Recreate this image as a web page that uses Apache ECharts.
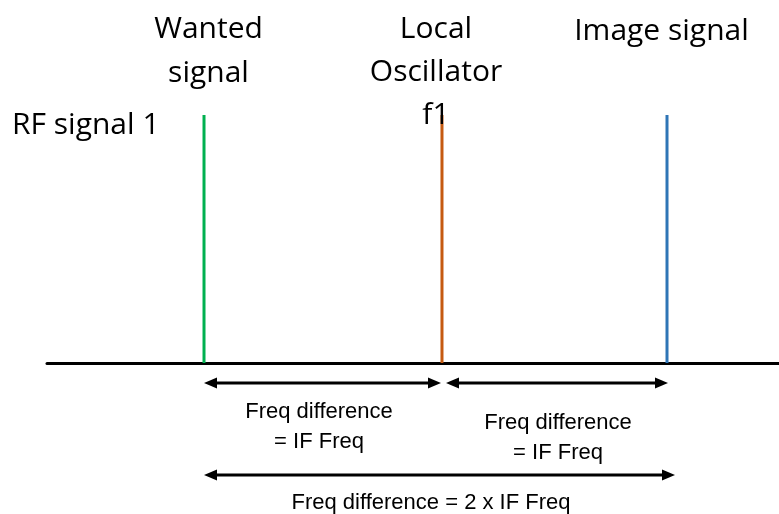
<!DOCTYPE html>
<html>
<head>
<meta charset="utf-8">
<script src="https://cdn.jsdelivr.net/npm/echarts@6/dist/echarts.min.js"></script>
<style>
  html, body { margin: 0; padding: 0; background: #ffffff; }
  #chart { width: 779px; height: 514px; }
</style>
</head>
<body>
<div id="chart"></div>
<script>
// ---- data ----
const signalNames = ['Wanted signal', 'Local Oscillator f1', 'Image signal'];
const signalLabels = ['Wanted\nsignal', 'Local\nOscillator\nf1', 'Image signal'];
const signalFreq = [21.45, 53.96, 84.70];   // position on frequency axis (arbitrary units)
const signalAmplitude = [1, 1, 1];
const plotTitle = 'RF signal 1';
const spanFrom = [0, 1, 0];                 // index into signals
const spanTo = [1, 2, 2];
const spanLabels = ['Freq difference\n= IF Freq', 'Freq difference\n= IF Freq', 'Freq difference = 2 x IF Freq'];

// ---- styles / layout ----
const signalColors = ['#00B050', '#C55A11', '#2E75B6'];
const labelLayout = [
  { dx: 4.5, dy: -20, lh: 44 },
  { dx: -6, dy: 22, lh: 43 },
  { dx: -5.5, dy: -62, lh: 44 }
];
const spanLayout = [
  { dy: 20, padL: 0, padR: -1, tx: -3.5, ty: 44 },
  { dy: 20, padL: 4, padR: 1, tx: 1, ty: 55 },
  { dy: 112, padL: 0, padR: 8, tx: -8.5, ty: 28 }
];
const topFont = '"Open Sans", "Noto Sans", sans-serif';
const lowFont = '"Liberation Sans", Arial, sans-serif';

const chart = echarts.init(document.getElementById('chart'), null, { renderer: 'canvas' });

const signalSeries = signalNames.map((name, i) => ({
  type: 'line',
  name: name,
  data: [[signalFreq[i], 0], [signalFreq[i], signalAmplitude[i]]],
  showSymbol: false,
  symbol: 'none',
  lineStyle: { color: signalColors[i], width: 3, cap: 'butt' },
  itemStyle: { color: signalColors[i] },
  emphasis: { disabled: true },
  silent: true,
  z: 3,
  animation: false
}));

const labelData = signalFreq.map((f, i) => [f, signalAmplitude[i], i]);

function renderLabel(params, api) {
  const i = params.dataIndex;
  const lay = labelLayout[i];
  const p = api.coord([api.value(0), api.value(1)]);
  return {
    type: 'text',
    z2: 10,
    style: {
      text: signalLabels[i], x: p[0] + lay.dx, y: p[1] + lay.dy,
      align: 'center', verticalAlign: 'bottom',
      fontFamily: topFont, fontSize: 30, lineHeight: lay.lh, fill: '#000000'
    }
  };
}

const spanData = spanFrom.map((f, i) => [signalFreq[f], signalFreq[spanTo[i]], i]);

function renderSpan(params, api) {
  const i = params.dataIndex;
  const lay = spanLayout[i];
  const p1 = api.coord([api.value(0), 0]);
  const p2 = api.coord([api.value(1), 0]);
  const y = p1[1] + lay.dy;
  const x1 = p1[0] + lay.padL;
  const x2 = p2[0] + lay.padR;
  const ah = 13, aw = 5.5;
  return {
    type: 'group',
    children: [
      { type: 'line', shape: { x1: x1 + ah - 1, y1: y, x2: x2 - ah + 1, y2: y },
        style: { stroke: '#000000', lineWidth: 3 } },
      { type: 'polygon', shape: { points: [[x1, y], [x1 + ah, y - aw], [x1 + ah, y + aw]] },
        style: { fill: '#000000' } },
      { type: 'polygon', shape: { points: [[x2, y], [x2 - ah, y - aw], [x2 - ah, y + aw]] },
        style: { fill: '#000000' } },
      { type: 'text', style: {
          text: spanLabels[i], x: (x1 + x2) / 2 + lay.tx, y: y + lay.ty,
          align: 'center', verticalAlign: 'middle',
          fontFamily: lowFont, fontSize: 22, lineHeight: 30, fill: '#000000' } }
    ]
  };
}

const option = {
  animation: false,
  backgroundColor: '#ffffff',
  title: {
    text: plotTitle,
    left: 12,
    top: 110,
    padding: 0,
    textStyle: { fontFamily: topFont, fontSize: 30, fontWeight: 'normal', color: '#000000', lineHeight: 30 }
  },
  grid: { left: 47, right: 0, top: 115, bottom: 151, containLabel: false },
  xAxis: {
    type: 'value', min: 0, max: 100,
    axisLine: { show: true, onZero: true, lineStyle: { color: '#000000', width: 3 } },
    axisTick: { show: false }, axisLabel: { show: false }, splitLine: { show: false }
  },
  yAxis: {
    type: 'value', min: 0, max: 1, show: false, splitLine: { show: false }
  },
  series: signalSeries.concat([{
    type: 'custom',
    name: 'signal labels',
    data: labelData,
    renderItem: renderLabel,
    clip: false,
    silent: true,
    z: 5
  }, {
    type: 'custom',
    name: 'spans',
    data: spanData,
    renderItem: renderSpan,
    clip: false,
    silent: true,
    z: 4
  }])
};

chart.setOption(option);
</script>
</body>
</html>
